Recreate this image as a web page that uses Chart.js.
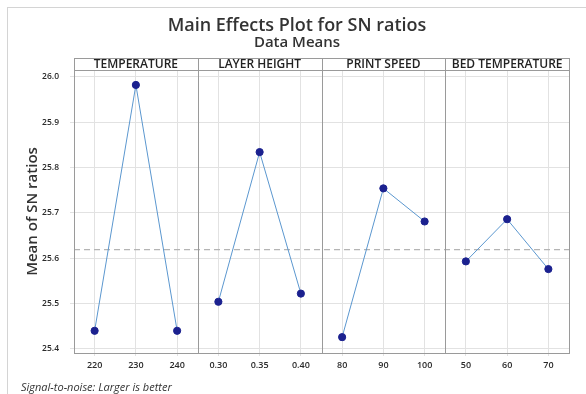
<!DOCTYPE html>
<html>
<head>
<meta charset="utf-8">
<script src="https://cdn.jsdelivr.net/npm/chart.js@4/dist/chart.umd.min.js"></script>
<style>
  html, body { margin: 0; padding: 0; background: #ffffff; }
  #wrap { position: relative; width: 586px; height: 394px; overflow: hidden; }
  #frame { position: absolute; left: 7px; top: 7px; width: 600px; height: 400px; border: 1px solid #d4d4d4; box-sizing: border-box; }
  canvas { position: absolute; left: 0; top: 0; }
  #note { position: absolute; left: 21px; top: 379px; font: italic 11px "Open Sans", sans-serif; line-height: 15px; color: #333; white-space: nowrap; }
</style>
</head>
<body>
<div id="wrap">
  <div id="frame"></div>
  <canvas id="c" width="586" height="394"></canvas>
  <div id="note">Signal-to-noise: Larger is better</div>
</div>
<script>
// ---- data ----
const factors = ["TEMPERATURE", "LAYER HEIGHT", "PRINT SPEED", "BED TEMPERATURE"];
const temperatureLevels = ["220", "230", "240"];
const layerHeightLevels = ["0.30", "0.35", "0.40"];
const printSpeedLevels = ["80", "90", "100"];
const bedTemperatureLevels = ["50", "60", "70"];
const temperatureMeans = [25.440, 25.982, 25.440];
const layerHeightMeans = [25.504, 25.834, 25.522];
const printSpeedMeans = [25.426, 25.754, 25.681];
const bedTemperatureMeans = [25.593, 25.686, 25.576];
const grandMean = 25.619;
const yTickValues = [25.4, 25.5, 25.6, 25.7, 25.8, 25.9, 26.0];

const levelGroups = [temperatureLevels, layerHeightLevels, printSpeedLevels, bedTemperatureLevels];
const meanGroups = [temperatureMeans, layerHeightMeans, printSpeedMeans, bedTemperatureMeans];
const allLabels = levelGroups.flat();

const lineColor = "#5b97cf";
const pointColor = "#1b218f";
const fontFamily = "'Open Sans', sans-serif";

const datasets = levelGroups.map((lv, i) => ({
  label: factors[i],
  data: lv.map((l, j) => ({ x: l, y: meanGroups[i][j] })),
  borderColor: lineColor,
  borderWidth: 1,
  pointBackgroundColor: pointColor,
  pointBorderColor: pointColor,
  pointRadius: 3.6,
  pointHoverRadius: 3.6,
  tension: 0
}));

const panelPlugin = {
  id: "panels",
  beforeDatasetsDraw(chart) {
    const { ctx, chartArea: a, scales: { y } } = chart;
    ctx.save();
    const ym = y.getPixelForValue(grandMean);
    ctx.strokeStyle = "#b4b4b4";
    ctx.lineWidth = 1.2;
    ctx.setLineDash([6, 4]);
    ctx.beginPath();
    ctx.moveTo(a.left, ym);
    ctx.lineTo(a.right, ym);
    ctx.stroke();
    ctx.restore();
  },
  afterDraw(chart) {
    const { ctx, chartArea: a, scales: { x } } = chart;
    const stripTop = a.top - 12;
    ctx.save();
    ctx.strokeStyle = "#9a9a9a";
    ctx.lineWidth = 1;
    ctx.strokeRect(a.left + 0.5, stripTop + 0.5, a.right - a.left, a.bottom - stripTop);
    ctx.beginPath();
    ctx.moveTo(a.left, a.top + 0.5);
    ctx.lineTo(a.right, a.top + 0.5);
    ctx.stroke();
    let start = 0;
    ctx.font = "600 12px " + fontFamily;
    ctx.fillStyle = "#222";
    ctx.textAlign = "center";
    ctx.textBaseline = "middle";
    levelGroups.forEach((lv, i) => {
      const x0 = x.getPixelForValue(start - 0.5);
      const x1 = x.getPixelForValue(start + lv.length - 0.5);
      if (i > 0) {
        ctx.beginPath();
        ctx.moveTo(Math.round(x0) + 0.5, stripTop);
        ctx.lineTo(Math.round(x0) + 0.5, a.bottom);
        ctx.stroke();
      }
      ctx.fillText(factors[i], (x0 + x1) / 2, stripTop + 6.5);
      start += lv.length;
    });
    ctx.restore();
  }
};

new Chart(document.getElementById("c"), {
  type: "line",
  data: { labels: allLabels, datasets },
  plugins: [panelPlugin],
  options: {
    responsive: false,
    animation: false,
    layout: { padding: { left: 8, right: 0, top: 17, bottom: 0 } },
    plugins: {
      legend: { display: false },
      tooltip: { enabled: false },
      title: {
        display: true,
        text: "Main Effects Plot for SN ratios",
        color: "#333",
        font: { family: fontFamily, size: 18, weight: "600", lineHeight: 1 },
        padding: { top: 0, bottom: 0 }
      },
      subtitle: {
        display: true,
        text: "Data Means",
        color: "#333",
        font: { family: fontFamily, size: 15, weight: "600", lineHeight: 1 },
        padding: { top: 0, bottom: 20 }
      }
    },
    scales: {
      x: {
        type: "category",
        offset: true,
        grid: { color: "#e2e2e2", drawTicks: true, tickLength: 3, offset: false },
        border: { display: false },
        ticks: { color: "#2a2a2a", padding: 4, autoSkip: false, maxRotation: 0,
                 font: { family: fontFamily, size: 9, weight: "600" } },
        afterFit(s) { s.height = 41; }
      },
      y: {
        type: "linear",
        min: 25.391,
        max: 26.015,
        afterBuildTicks(s) { s.ticks = yTickValues.map(v => ({ value: v })); },
        grid: { color: "#e2e2e2", drawTicks: true, tickLength: 4 },
        border: { display: false },
        ticks: { color: "#2a2a2a", padding: 11, callback: v => Number(v).toFixed(1),
                 font: { family: fontFamily, size: 8.5, weight: "600" } },
        title: {
          display: true,
          text: "Mean of SN ratios",
          color: "#333",
          font: { family: fontFamily, size: 15, weight: "600" },
          padding: { top: 16, bottom: 0 }
        },
        afterFit(s) { s.width = 66; }
      },
      yR: {
        position: "right",
        display: true,
        grid: { display: false },
        border: { display: false },
        ticks: { display: false },
        afterFit(s) { s.width = 17; }
      }
    }
  }
});
</script>
</body>
</html>
